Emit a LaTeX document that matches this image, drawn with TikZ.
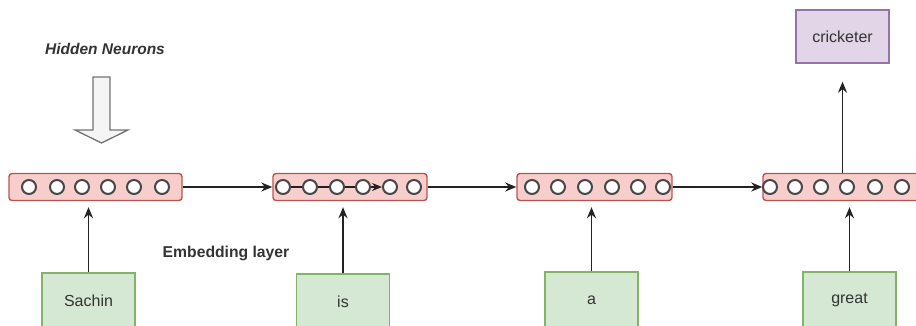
\documentclass[tikz,border=0pt]{standalone}
\usepackage{fontspec}
\setmainfont{Liberation Sans}
\usetikzlibrary{arrows.meta}
\definecolor{pinkf}{HTML}{F8CECC}
\definecolor{pinkd}{HTML}{B85450}
\definecolor{greenf}{HTML}{D5E8D4}
\definecolor{greend}{HTML}{82B366}
\definecolor{purpf}{HTML}{E1D5E7}
\definecolor{purpd}{HTML}{9673A6}
\definecolor{txt}{HTML}{333333}
\definecolor{edge}{HTML}{222222}
\begin{document}
\begin{tikzpicture}[x=1pt,y=-1pt,
  layer/.style={rectangle, rounded corners=3pt, draw=pinkd, fill=pinkf, line width=1.4pt, minimum height=27pt, inner sep=0pt},
  neuron/.style={circle, draw=txt!90, fill=white, line width=2pt, minimum size=14pt, inner sep=0pt},
  word/.style={rectangle, draw=greend, fill=greenf, line width=1.4pt, minimum width=93pt, minimum height=56pt, inner sep=0pt, text=txt, font=\fontsize{16}{19}\selectfont},
  outbox/.style={rectangle, draw=purpd, fill=purpf, line width=1.4pt, minimum width=93pt, minimum height=53pt, inner sep=0pt, text=txt, font=\fontsize{16}{19}\selectfont},
  conn/.style={draw=edge, line width=1.8pt, -{Stealth[length=11pt,width=9pt]}},
  plain/.style={draw=edge, line width=1.8pt},
  label/.style={text=txt, font=\bfseries\fontsize{15.7}{18}\selectfont}
]
\useasboundingbox (0,0) rectangle (916,326);

% layers
\node[layer, minimum width=173pt] (L1) at (95.5,187) {};
\node[layer, minimum width=154pt] (L2) at (350,187) {};
\node[layer, minimum width=155pt] (L3) at (594.5,187) {};
\node[layer, minimum width=157pt] (L4) at (841.5,187) {};

% neurons
\foreach \i/\x in {1/29,2/57,3/82,4/108,5/134,6/162}
  \node[neuron] (n1-\i) at (\x,187) {};
\foreach \i/\x in {1/283,2/310,3/337,4/363,5/390,6/414}
  \node[neuron] (n2-\i) at (\x,187) {};
\foreach \i/\x in {1/532,2/558,3/585,4/612,5/638,6/663}
  \node[neuron] (n3-\i) at (\x,187) {};
\foreach \i/\x in {1/770,2/795,3/821,4/847,5/875,6/902}
  \node[neuron] (n4-\i) at (\x,187) {};

% word boxes
\node[word] (w1) at (88.5,301) {Sachin};
\node[word] (w2) at (343,302) {is};
\node[word] (w3) at (591.5,300) {a};
\node[word] (w4) at (849.5,300) {great};

% output box
\node[outbox] (out) at (842.5,36.5) {cricketer};

% labels
\node[label, font=\bfseries\itshape\fontsize{15.5}{18}\selectfont] (hid) at (105,49) {Hidden Neurons};
\node[label] (emb) at (226,253) {Embedding layer};

% hollow block arrow
\draw[draw=black!55, fill=black!4, line width=1.3pt]
  (93,77) -- (110,77) -- (110,130) -- (128,130) -- (101.5,143) -- (75,130) -- (93,130) -- cycle;

% recurrent connections
\draw[conn] (L1.east) -- (L2.west);
\draw[conn] (L2.east) -- (L3.west);
\draw[conn] (L3.east) -- (L4.west);

% internal links in layer 2
\draw[plain] (n2-1) -- (n2-2) -- (n2-3) -- (n2-4);
\draw[conn, -{Stealth[length=10pt,width=8pt]}] (n2-4) -- (n2-5);

% inputs
\draw[conn, shorten >=6pt] (w1.north) -- (w1.north |- L1.south);
\draw[conn, shorten >=6pt] (w2.north) -- (w2.north |- L2.south);
\draw[conn, shorten >=6pt] (w3.north) -- (w3.north |- L3.south);
\draw[conn, shorten >=6pt] (w4.north) -- (w4.north |- L4.south);

% output
\draw[conn, shorten >=18pt] (out.south |- L4.north) -- (out.south);
\end{tikzpicture}
\end{document}
